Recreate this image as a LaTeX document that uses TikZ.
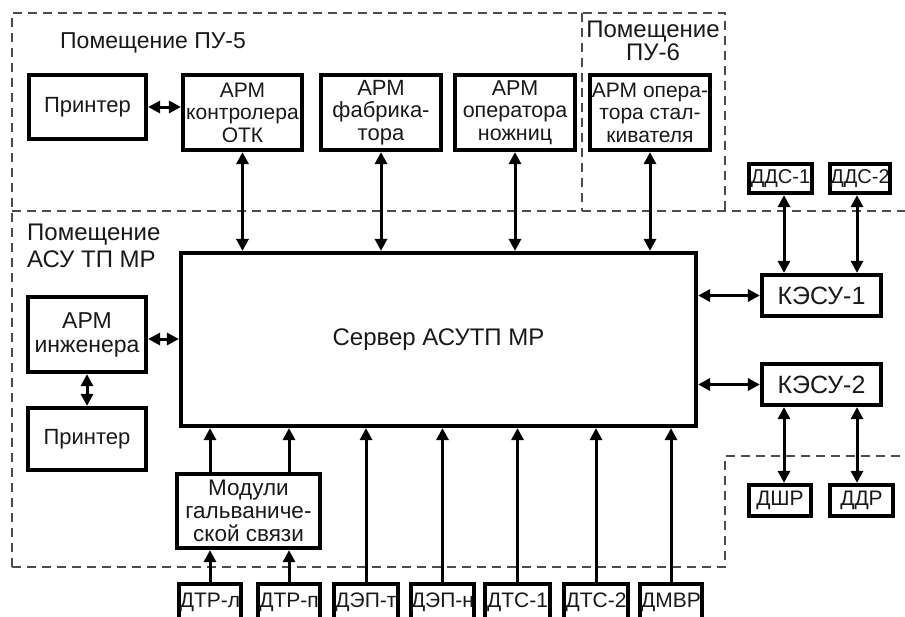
\documentclass[tikz,border=0pt]{standalone}
\usepackage{fontspec}
\setmainfont{Liberation Sans}
\usetikzlibrary{arrows.meta}
\begin{document}
\begin{tikzpicture}[x=1pt,y=-1pt,
  blk/.style={draw=black, line width=3.7pt, inner sep=0pt, align=center,
    font=\fontsize{22}{22.5}\selectfont, text=black!90},
  sens/.style={blk, minimum height=35.5pt, font=\fontsize{21}{22}\selectfont},
  arr/.style={line width=3pt, -{Triangle[length=12pt,width=12pt]}},
  biarr/.style={line width=3pt, {Triangle[length=12pt,width=12pt]}-{Triangle[length=12pt,width=12pt]}},
  region/.style={draw=black!70, line width=1.4pt, dash pattern=on 9pt off 6pt},
  lbl/.style={font=\fontsize{24}{23}\selectfont, inner sep=0pt, text=black!90}]
\useasboundingbox (0,0) rectangle (905,616);
\clip (0,0) rectangle (905,616);

% regions
\draw[region] (12,567) -- (12,13) -- (725,13) -- (725,211);
\draw[region] (582,13) -- (582,211);
\draw[region] (12,211) -- (905,211);
\draw[region] (12,567) -- (725,567) -- (725,456) -- (905,456);

% labels
\node[lbl, anchor=west, font=\fontsize{23}{24}\selectfont] (lpu5) at (60,43) {Помещение ПУ-5};
\node[lbl, align=center] (lpu6) at (653,41) {Помещение\\ПУ-6};
\node[lbl, align=left, anchor=west, font=\fontsize{24}{27}\selectfont] (lasu) at (27,246) {Помещение\\АСУ ТП МР};

% boxes
\node[blk, minimum width=117.5pt, minimum height=64.5pt] (prn1) at (87.5,107) {Принтер};
\node[blk, minimum width=119.5pt, minimum height=75.5pt, font=\fontsize{21}{22.5}\selectfont] (armotk) at (242.5,112.5) {АРМ\\контролера\\ОТК};
\node[blk, minimum width=120.5pt, minimum height=75.5pt] (armfab) at (381,112.5) {АРМ\\фабрика-\\тора};
\node[blk, minimum width=120.5pt, minimum height=75.5pt, font=\fontsize{21.5}{22.5}\selectfont] (armnozh) at (515,112.5) {АРМ\\оператора\\ножниц};
\node[blk, minimum width=120.5pt, minimum height=75.5pt, font=\fontsize{21}{22.5}\selectfont] (armstal) at (650,112.5) {АРМ опера-\\тора стал-\\кивателя};

\node[blk, minimum width=63.5pt, minimum height=29.5pt, font=\fontsize{20}{22}\selectfont] (dds1) at (780.5,178.5) {ДДС-1};
\node[blk, minimum width=60.5pt, minimum height=29.5pt, font=\fontsize{20}{22}\selectfont] (dds2) at (860,178.5) {ДДС-2};

\node[blk, minimum width=515.5pt, minimum height=173.5pt, font=\fontsize{24}{26}\selectfont] (server) at (438.5,339.5) {Сервер АСУТП МР};

\node[blk, minimum width=119.5pt, minimum height=41.5pt, font=\fontsize{25}{26}\selectfont] (kesu1) at (821.5,295.5) {КЭСУ-1};
\node[blk, minimum width=119.5pt, minimum height=41.5pt, font=\fontsize{25}{26}\selectfont] (kesu2) at (821.5,384.5) {КЭСУ-2};

\node[blk, minimum width=118.5pt, minimum height=75.5pt, font=\fontsize{23}{24}\selectfont] (armeng) at (87,334.5) {АРМ\\инженера};
\node[blk, minimum width=118.5pt, minimum height=62.5pt] (prn2) at (87,439) {Принтер};
\node[blk, minimum width=143.5pt, minimum height=74.5pt, font=\fontsize{22.5}{23}\selectfont] (mod) at (248.5,511) {Модули\\гальваниче-\\ской связи};

\node[sens, minimum width=62.5pt] (dtrl) at (210,602) {ДТР-л};
\node[sens, minimum width=62.5pt] (dtrp) at (289,602) {ДТР-п};
\node[sens, minimum width=64.5pt] (dept) at (366,602) {ДЭП-т};
\node[sens, minimum width=63.5pt] (depn) at (442.5,602) {ДЭП-н};
\node[sens, minimum width=65.5pt] (dts1) at (517.5,602) {ДТС-1};
\node[sens, minimum width=64.5pt] (dts2) at (596,602) {ДТС-2};
\node[sens, minimum width=62.5pt] (dmvr) at (671,602) {ДМВР};

\node[blk, minimum width=62.5pt, minimum height=31.5pt, font=\fontsize{21}{22}\selectfont] (dshr) at (780,500.5) {ДШР};
\node[blk, minimum width=63.5pt, minimum height=31.5pt, font=\fontsize{21}{22}\selectfont] (ddr) at (861.5,500.5) {ДДР};

% connectors
\draw[biarr] (prn1.east) -- (prn1.east -| armotk.west);
\draw[biarr] (armotk.south) -- (armotk.south |- server.north);
\draw[biarr] (armfab.south) -- (armfab.south |- server.north);
\draw[biarr] (armnozh.south) -- (armnozh.south |- server.north);
\draw[biarr] (armstal.south) -- (armstal.south |- server.north);

\draw[biarr] ([xshift=3.5pt]dds1.south) -- ([xshift=3.5pt]dds1.south |- kesu1.north);
\draw[biarr] ([xshift=-3pt]dds2.south) -- ([xshift=-3pt]dds2.south |- kesu1.north);
\draw[biarr] (server.east |- kesu1.west) -- (kesu1.west);
\draw[biarr] (server.east |- kesu2.west) -- (kesu2.west);
\draw[biarr] ([xshift=4pt]dshr.north |- kesu2.south) -- ([xshift=4pt]dshr.north);
\draw[biarr] ([xshift=-4.5pt]ddr.north |- kesu2.south) -- ([xshift=-4.5pt]ddr.north);

\draw[biarr] ([yshift=-4.5pt]armeng.east) -- ([yshift=-4.5pt]armeng.east -| server.west);
\draw[biarr] (armeng.south) -- (prn2.north);

\draw[arr] (dtrl.north) -- (dtrl.north |- mod.south);
\draw[arr] (dtrp.north) -- (dtrp.north |- mod.south);
\draw[arr] (dtrl.north |- mod.north) -- (dtrl.north |- server.south);
\draw[arr] (dtrp.north |- mod.north) -- (dtrp.north |- server.south);
\draw[arr] (dept.north) -- (dept.north |- server.south);
\draw[arr] (depn.north) -- (depn.north |- server.south);
\draw[arr] (dts1.north) -- (dts1.north |- server.south);
\draw[arr] (dts2.north) -- (dts2.north |- server.south);
\draw[arr] (dmvr.north) -- (dmvr.north |- server.south);
\end{tikzpicture}
\end{document}
